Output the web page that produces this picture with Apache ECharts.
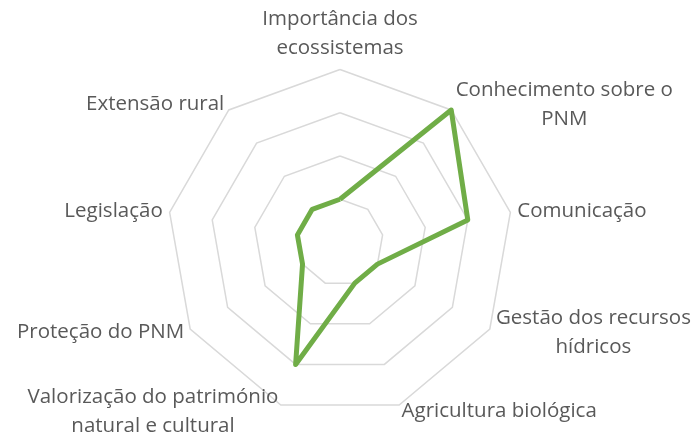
<!DOCTYPE html>
<html lang="pt">
<head>
    <meta charset="UTF-8">
    <title>Radar</title>
    <script src="https://cdn.jsdelivr.net/npm/echarts@6/dist/echarts.min.js"></script>
    <style>
        body{ margin: 0; background: #fff; }
    </style>
</head>
<body>
    <div id="myChart" style="width: 698px;height:443px;"></div>
    <script>
        // categorias em sentido horário a partir do topo
        var categories = [
            'Importância dos\necossistemas',
            'Conhecimento sobre o\nPNM',
            'Comunicação',
            'Gestão dos recursos\nhídricos',
            'Agricultura biológica',
            'Valorização do património\nnatural e cultural',
            'Proteção do PNM',
            'Legislação',
            'Extensão rural'
        ];
        var values = [1, 4, 3, 1, 1, 3, 1, 1, 1];
        var maxValue = 4;

        // o radar do echarts avança no sentido anti-horário: inverter mantendo o primeiro
        var order = [0];
        for (var i = categories.length - 1; i > 0; i--) order.push(i);

        var myChart = echarts.init(document.getElementById('myChart'));
        var option = {
            animation: false,
            radar: {
                center: [340, 242.5],
                radius: 173,
                startAngle: 90,
                splitNumber: 4,
                shape: 'polygon',
                nameGap: 7,
                indicator: order.map(function (k) {
                    return { name: categories[k], max: maxValue, min: 0 };
                }),
                axisName: {
                    color: '#595959',
                    fontFamily: 'Open Sans',
                    fontSize: 20.5,
                    lineHeight: 29,
                    formatter: function (name) {
                        return name.split('\n').map(function (s) {
                            return '{c|' + s + '}';
                        }).join('\n');
                    },
                    rich: {
                        c: { align: 'center', color: '#595959', fontFamily: 'Open Sans', fontSize: 20.5, lineHeight: 29 }
                    }
                },
                splitLine: { lineStyle: { color: '#D9D9D9', width: 1.5 } },
                splitArea: { show: false },
                axisLine: { show: false }
            },
            series: [{
                type: 'radar',
                symbol: 'none',
                lineStyle: { color: '#70AD47', width: 5 },
                data: [{ value: order.map(function (k) { return values[k]; }) }]
            }]
        };
        myChart.setOption(option);
    </script>
</body>
</html>
